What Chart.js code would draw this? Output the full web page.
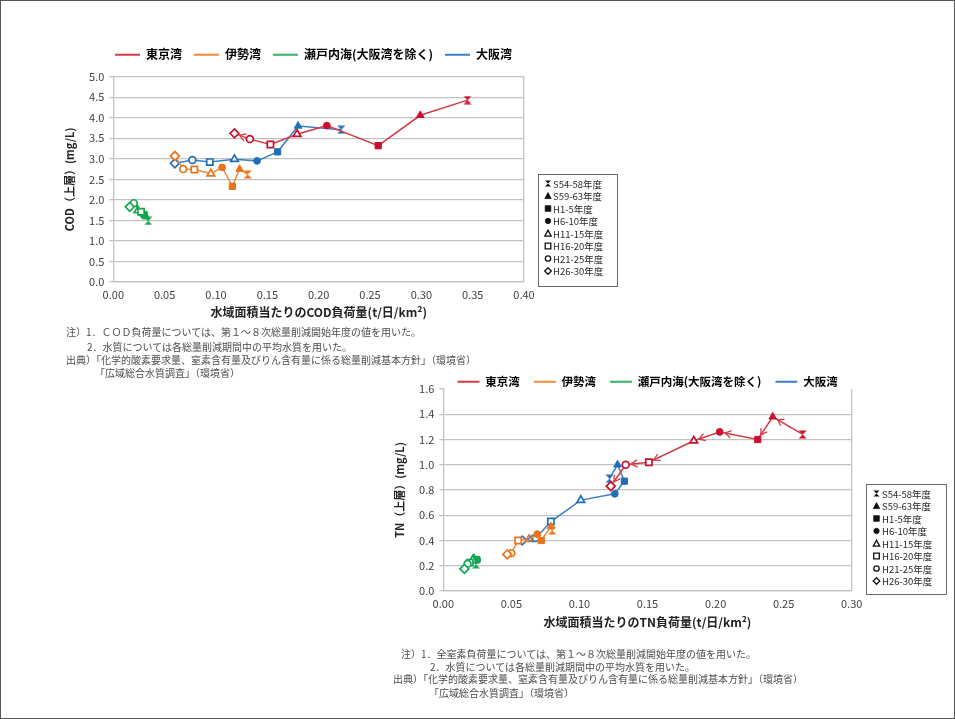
<!DOCTYPE html>
<html>
<head>
<meta charset="utf-8">
<script src="https://cdn.jsdelivr.net/npm/chart.js@4.4.1/dist/chart.umd.min.js"></script>
<style>
  html, body { margin: 0; padding: 0; background: #fff; }
  #page { position: relative; width: 955px; height: 719px; overflow: hidden; background: #fff; }
  #frame { position: absolute; left: 0; top: 0; width: 955px; height: 719px; box-sizing: border-box; border: 1px solid #555; pointer-events: none; }
  canvas { position: absolute; }
  .note { position: absolute; font-family: 'Noto Sans CJK JP', sans-serif; font-size: 10px; line-height: 12px; color: #4d4d4d; white-space: nowrap; }
</style>
</head>
<body>
<div id="page">
  <canvas id="codChart" width="560" height="330" style="left:0;top:0;width:560px;height:330px"></canvas>
  <canvas id="codKey" width="82" height="116" style="left:537px;top:173px;width:82px;height:116px"></canvas>

  <div class="note" style="left:66px;top:326px">注）1．ＣＯＤ負荷量については、第１～８次総量削減開始年度の値を用いた。</div>
  <div class="note" style="left:87px;top:341px">2．水質については各総量削減期間中の平均水質を用いた。</div>
  <div class="note" style="left:66px;top:354px">出典）「化学的酸素要求量、窒素含有量及びりん含有量に係る総量削減基本方針」（環境省）</div>
  <div class="note" style="left:95px;top:367px">「広域総合水質調査」（環境省）</div>

  <canvas id="tnChart" width="500" height="290" style="left:370px;top:350px;width:500px;height:290px"></canvas>
  <canvas id="tnKey" width="83" height="114" style="left:865px;top:483px;width:83px;height:114px"></canvas>

  <div class="note" style="left:401px;top:648px">注）1．全窒素負荷量については、第１～８次総量削減開始年度の値を用いた。</div>
  <div class="note" style="left:430px;top:661px">2．水質については各総量削減期間中の平均水質を用いた。</div>
  <div class="note" style="left:393px;top:673px">出典）「化学的酸素要求量、窒素含有量及びりん含有量に係る総量削減基本方針」（環境省）</div>
  <div class="note" style="left:429px;top:687px">「広域総合水質調査」（環境省）</div>

  <div id="frame"></div>
</div>

<script>
// ---- data ----
const periods = ['S54-58年度', 'S59-63年度', 'H1-5年度', 'H6-10年度', 'H11-15年度', 'H16-20年度', 'H21-25年度', 'H26-30年度'];
const areaNames = ['東京湾', '伊勢湾', '瀬戸内海(大阪湾を除く)', '大阪湾'];

// COD: load per water area (t/day/km2) and surface concentration (mg/L)
const codTokyoLoad = [0.345, 0.299, 0.258, 0.208, 0.179, 0.153, 0.133, 0.118];
const codTokyoConc = [4.43, 4.06, 3.32, 3.81, 3.60, 3.35, 3.48, 3.62];
const codIseLoad   = [0.131, 0.123, 0.116, 0.106, 0.095, 0.079, 0.068, 0.060];
const codIseConc   = [2.62, 2.75, 2.33, 2.79, 2.64, 2.74, 2.75, 3.07];
const codSetoLoad  = [0.034, 0.032, 0.030, 0.029, 0.024, 0.027, 0.020, 0.016];
const codSetoConc  = [1.49, 1.59, 1.64, 1.66, 1.74, 1.71, 1.92, 1.83];
const codOsakaLoad = [0.222, 0.180, 0.160, 0.140, 0.118, 0.094, 0.077, 0.060];
const codOsakaConc = [3.71, 3.80, 3.17, 2.95, 2.99, 2.92, 2.97, 2.89];

// TN: load per water area (t/day/km2) and surface concentration (mg/L)
const tnTokyoLoad = [0.264, 0.242, 0.231, 0.203, 0.184, 0.151, 0.134, 0.123];
const tnTokyoConc = [1.24, 1.38, 1.20, 1.26, 1.19, 1.02, 1.00, 0.83];
const tnIseLoad   = [0.080, 0.079, 0.072, 0.069, 0.063, 0.055, 0.050, 0.047];
const tnIseConc   = [0.48, 0.51, 0.40, 0.45, 0.41, 0.40, 0.30, 0.29];
const tnSetoLoad  = [0.024, 0.0225, 0.0245, 0.025, 0.0215, 0.0195, 0.0178, 0.0155];
const tnSetoConc  = [0.21, 0.26, 0.25, 0.245, 0.245, 0.225, 0.215, 0.175];
const tnOsakaLoad = [0.122, 0.128, 0.133, 0.126, 0.101, 0.079, 0.068, 0.058];
const tnOsakaConc = [0.89, 1.00, 0.87, 0.77, 0.72, 0.55, 0.42, 0.40];

const codXTicks = { min: 0, max: 0.40, step: 0.05 };
const codYTicks = { min: 0, max: 5.0, step: 0.5 };
const tnXTicks  = { min: 0, max: 0.30, step: 0.05 };
const tnYTicks  = { min: 0, max: 1.6, step: 0.2 };

// ---- styling ----
const FONT = "'Noto Sans CJK JP', 'Noto Sans', sans-serif";
Chart.defaults.font.family = FONT;
const lineColors   = ['#d33a48', '#ee8a3a', '#2fb565', '#3a80c4'];
const markerColors = ['#c8102e', '#e8741c', '#13a650', '#1f6fb8'];
const GRID = '#c2c2c2';

// marker shape per period: hourglass, ▲, ■, ●, △, □, ○, ◇
const periodShapes = ['hourglass', 'triangle', 'rect', 'circle', 'triangle', 'rect', 'circle', 'rectRot'];
const periodFilled = [true, true, true, true, false, false, false, false];

function hourglassImage(color, size) {
  const c = document.createElement('canvas');
  c.width = size; c.height = size;
  const g = c.getContext('2d');
  g.fillStyle = color;
  const m = size / 2;
  g.beginPath();
  g.moveTo(0.5, 0.5); g.lineTo(size - 0.5, 0.5); g.lineTo(m, m); g.closePath();
  g.moveTo(0.5, size - 0.5); g.lineTo(size - 0.5, size - 0.5); g.lineTo(m, m); g.closePath();
  g.fill();
  return c;
}

function pointStyles(color) {
  return periodShapes.map(s => s === 'hourglass' ? hourglassImage(color, 9) : s);
}
function pointRadii() {
  return periodShapes.map(s => s === 'circle' ? 3.4 : 4.4);
}

function makeDataset(idx, loads, concs, arrowStart) {
  const color = markerColors[idx];
  return {
    label: areaNames[idx],
    data: loads.map((x, i) => ({ x: x, y: concs[i] })),
    showLine: true,
    tension: 0,
    borderColor: lineColors[idx],
    borderWidth: 1.5,
    pointStyle: pointStyles(color),
    pointRadius: pointRadii(),
    pointHoverRadius: pointRadii(),
    pointBackgroundColor: periodFilled.map(f => f ? color : '#ffffff'),
    pointBorderColor: color,
    pointBorderWidth: periodFilled.map(f => f ? 1 : 1.7),
    arrowStart: arrowStart,
    arrowColor: lineColors[idx]
  };
}

// arrowheads showing the direction of change between successive periods
const segmentArrows = {
  id: 'segmentArrows',
  afterDatasetsDraw(chart) {
    const ctx = chart.ctx;
    chart.data.datasets.forEach((ds, di) => {
      if (ds.arrowStart === undefined || ds.arrowStart === null) return;
      const pts = chart.getDatasetMeta(di).data;
      ctx.save();
      ctx.strokeStyle = ds.arrowColor;
      ctx.lineWidth = 1.3;
      for (let i = Math.max(1, ds.arrowStart); i < pts.length; i++) {
        const a = pts[i - 1], b = pts[i];
        const ang = Math.atan2(b.y - a.y, b.x - a.x);
        const tx = b.x - Math.cos(ang) * 5.5, ty = b.y - Math.sin(ang) * 5.5;
        const len = 7, spread = 0.55;
        ctx.beginPath();
        ctx.moveTo(tx - Math.cos(ang - spread) * len, ty - Math.sin(ang - spread) * len);
        ctx.lineTo(tx, ty);
        ctx.lineTo(tx - Math.cos(ang + spread) * len, ty - Math.sin(ang + spread) * len);
        ctx.stroke();
      }
      ctx.restore();
    });
  }
};

function near(a, b) { return Math.abs(a - b) < 1e-9; }

function makeChart(canvasId, datasets, xr, yr, xTitle, yTitle, legendOpts, hideTopGrid, xTitlePad, legendGap) {
  const legendLabels = {
    font: { size: legendOpts.size, weight: 'bold', family: FONT },
    color: '#333',
    boxWidth: legendOpts.boxWidth,
    boxHeight: 2,
    padding: legendOpts.padding,
    generateLabels: (chart) => chart.data.datasets.map((ds, i) => ({
      text: ds.label,
      fillStyle: lineColors[i],
      strokeStyle: lineColors[i],
      lineWidth: 0,
      hidden: false,
      datasetIndex: i
    }))
  };
  return new Chart(document.getElementById(canvasId), {
    type: 'scatter',
    data: { datasets: datasets },
    options: {
      responsive: false,
      animation: false,
      devicePixelRatio: 1,
      layout: { padding: { left: 40, right: 30, top: 20, bottom: 10 } },
      plugins: {
        legend: { position: 'top', align: 'end', maxHeight: legendOpts.maxHeight, labels: legendLabels },
        // blank spacer box between the legend row and the plot area
        title: { display: legendGap > 0, text: ' ', weight: 500, padding: 0,
                 font: { size: legendGap / 1.2 } },
        tooltip: { enabled: false }
      },
      scales: {
        x: {
          type: 'linear', min: xr.min, max: xr.max,
          ticks: { stepSize: xr.step, padding: 6, color: '#404040', font: { size: 11 },
                   callback: v => Number(v).toFixed(2) },
          grid: { drawTicks: false, lineWidth: 1.3,
                  color: c => (c.tick && near(c.tick.value, xr.max)) ? GRID : 'rgba(0,0,0,0)' },
          border: { color: GRID, width: 1.3 },
          title: { display: true, text: xTitle, color: '#222', font: { size: 12, weight: 'bold' },
                   padding: { top: xTitlePad, bottom: 0 } }
        },
        y: {
          type: 'linear', min: yr.min, max: yr.max,
          ticks: { stepSize: yr.step, padding: 5, color: '#404040', font: { size: 11 },
                   callback: v => Number(v).toFixed(1) },
          grid: { tickLength: 4, lineWidth: 1.3, tickColor: GRID,
                  color: c => (hideTopGrid && c.tick && near(c.tick.value, yr.max)) ? 'rgba(0,0,0,0)' : GRID },
          border: { color: GRID, width: 1.3 },
          title: { display: true, text: yTitle, color: '#222', font: { size: 11, weight: 'bold' },
                   padding: { top: 0, bottom: 8 } }
        }
      }
    },
    plugins: [segmentArrows]
  });
}

// moves the layout padding so the plot area sits on the given canvas rectangle
function placePlotArea(chart, area) {
  for (let k = 0; k < 5; k++) {
    const a = chart.chartArea;
    const p = Object.assign({}, chart.config.options.layout.padding);
    p.left += area.left - a.left;
    p.right += a.right - area.right;
    p.top += area.top - a.top;
    p.bottom += a.bottom - area.bottom;
    chart.config.options.layout.padding = p;
    chart.update('none');
  }
}

// ---- COD chart ----
const codChart = makeChart('codChart', [
  makeDataset(0, codTokyoLoad, codTokyoConc, 7),
  makeDataset(1, codIseLoad, codIseConc),
  makeDataset(2, codSetoLoad, codSetoConc),
  makeDataset(3, codOsakaLoad, codOsakaConc)
], codXTicks, codYTicks, '水域面積当たりのCOD負荷量(t/日/km²)', 'COD（上層）(mg/L)',
   { size: 12, boxWidth: 25, padding: 12, maxHeight: 60 }, false, -2, 6);
placePlotArea(codChart, { left: 113.3, top: 76.7, right: 524, bottom: 282 });

// ---- TN chart ----
const tnChart = makeChart('tnChart', [
  makeDataset(0, tnTokyoLoad, tnTokyoConc, 1),
  makeDataset(1, tnIseLoad, tnIseConc),
  makeDataset(2, tnSetoLoad, tnSetoConc),
  makeDataset(3, tnOsakaLoad, tnOsakaConc, 7)
], tnXTicks, tnYTicks, '水域面積当たりのTN負荷量(t/日/km²)', 'TN（上層）(mg/L)',
   { size: 11.5, boxWidth: 22, padding: 14, maxHeight: 27 }, true, -0.5, 0);
placePlotArea(tnChart, { left: 73.3, top: 39, right: 481.7, bottom: 241 });

// ---- period marker keys ----
function drawSymbol(g, shape, filled, x, y) {
  g.fillStyle = filled ? '#111' : '#fff';
  g.strokeStyle = '#111';
  g.lineWidth = filled ? 0.8 : 1.3;
  g.beginPath();
  if (shape === 'hourglass') {
    g.moveTo(x - 3, y - 3); g.lineTo(x + 3, y - 3); g.lineTo(x, y); g.closePath();
    g.moveTo(x - 3, y + 3); g.lineTo(x + 3, y + 3); g.lineTo(x, y); g.closePath();
    g.fill(); return;
  } else if (shape === 'triangle') {
    g.moveTo(x, y - 3.4); g.lineTo(x + 3.2, y + 2.6); g.lineTo(x - 3.2, y + 2.6); g.closePath();
  } else if (shape === 'rect') {
    g.rect(x - 2.8, y - 2.8, 5.6, 5.6);
  } else if (shape === 'circle') {
    g.arc(x, y, 2.7, 0, Math.PI * 2);
  } else if (shape === 'rectRot') {
    g.moveTo(x, y - 3.3); g.lineTo(x + 3.3, y); g.lineTo(x, y + 3.3); g.lineTo(x - 3.3, y); g.closePath();
  }
  g.fill(); g.stroke();
}

function drawKey(canvasId, boxW, boxH, symX, textX, firstY, rowGap) {
  const cv = document.getElementById(canvasId);
  const g = cv.getContext('2d');
  g.fillStyle = '#fff';
  g.fillRect(1, 1, boxW, boxH);
  g.strokeStyle = '#6a6a6a';
  g.lineWidth = 1;
  g.strokeRect(1.5, 1.5, boxW, boxH);
  g.font = '9.5px ' + FONT;
  g.textBaseline = 'middle';
  periods.forEach((p, i) => {
    const y = firstY + i * rowGap;
    drawSymbol(g, periodShapes[i], periodFilled[i], symX, y);
    g.fillStyle = '#2a2a2a';
    g.fillText(p, textX, y + 0.5);
  });
}
drawKey('codKey', 79, 112, 11, 16, 10.5, 12.5);
drawKey('tnKey', 80, 110, 11.5, 17, 10.5, 12.5);
</script>
</body>
</html>
